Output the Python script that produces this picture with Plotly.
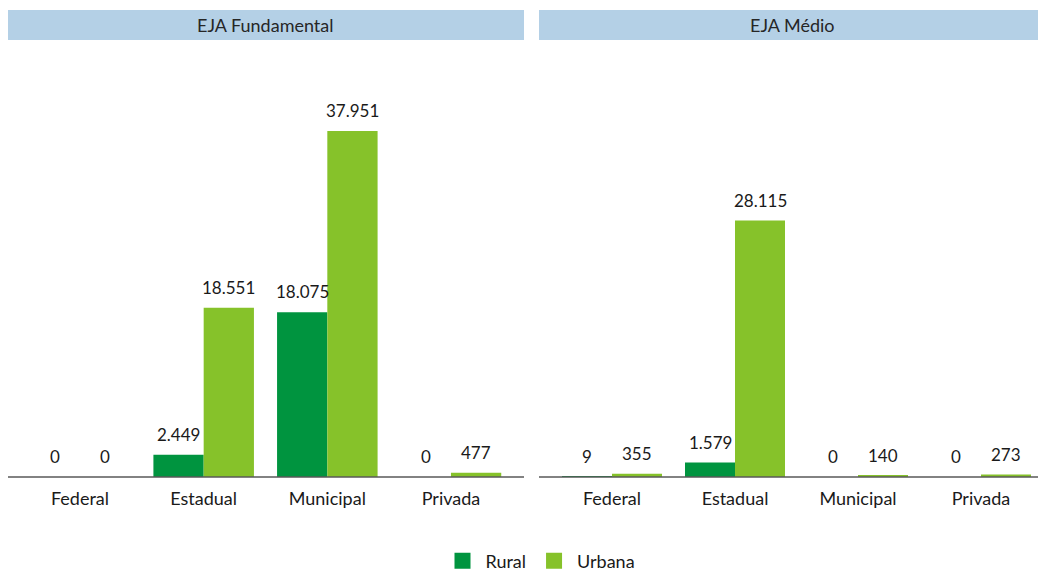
import plotly.graph_objects as go
from plotly.subplots import make_subplots

categorias = ["Federal", "Estadual", "Municipal", "Privada"]
fund_rural = [0, 2449, 18075, 0]
fund_urbana = [0, 18551, 37951, 477]
medio_rural = [9, 1579, 0, 0]
medio_urbana = [355, 28115, 140, 273]
paineis = ["EJA Fundamental", "EJA Médio"]

# a página tem 8px de margem no body, por isso tudo é deslocado de 8px
OFF = 8
W, H = 1046 - OFF, 570
VERDE_ESCURO = "#00943F"
VERDE_CLARO = "#86C22A"
FUNDO_TITULO = "#B4D0E6"
FONTE = "Lato, 'Open Sans', sans-serif"
PX_POR_UNIDADE = 0.00912


def fmt(v):
    return f"{v:,}".replace(",", ".")


def px(x):
    return (x - OFF) / W


def py(y):
    return 1 - (y - OFF) / H


fig = make_subplots(rows=1, cols=2)

for col, (rural, urbana) in enumerate([(fund_rural, fund_urbana), (medio_rural, medio_urbana)], start=1):
    fig.add_trace(go.Bar(x=categorias, y=rural, name="Rural", marker=dict(color=VERDE_ESCURO, line_width=0),
                         showlegend=False, legendgroup="rural"), row=1, col=col)
    fig.add_trace(go.Bar(x=categorias, y=urbana, name="Urbana", marker=dict(color=VERDE_CLARO, line_width=0),
                         showlegend=False, legendgroup="urbana"), row=1, col=col)
    sufixo = "" if col == 1 else "2"
    for serie, desloc in [(rural, -25), (urbana, 25)]:
        for cat, v in zip(categorias, serie):
            fig.add_annotation(x=cat, y=v, xref="x" + sufixo, yref="y" + sufixo, text=fmt(v),
                               showarrow=False, xshift=desloc, yshift=8, yanchor="bottom",
                               font=dict(size=17, color="#1a1a1a"))

# entradas da legenda com quadrados maiores
for nome, cor in [("Rural", VERDE_ESCURO), ("Urbana", VERDE_CLARO)]:
    fig.add_trace(go.Scatter(x=[None], y=[None], mode="markers", name=nome, legendgroup=nome.lower(),
                             marker=dict(symbol="square", size=20, color=cor)), row=1, col=1)

ybase = 477
ytopo = 45
ymax = (ybase - ytopo) / PX_POR_UNIDADE

fig.update_layout(
    width=W, height=H,
    margin=dict(l=0, r=0, t=0, b=0, autoexpand=False),
    paper_bgcolor="white", plot_bgcolor="white",
    barmode="group", bargap=0.187, bargroupgap=0,
    font=dict(family=FONTE, size=17, color="#1a1a1a"),
    legend=dict(orientation="h", x=px(540), xanchor="center", y=py(561), yanchor="middle",
                font=dict(size=18), itemwidth=36),
    xaxis=dict(domain=[px(80 - 61.8), px(451 + 61.8)], range=[-0.5, 3.5]),
    xaxis2=dict(domain=[px(612 - 61.5), 1], range=[-0.5, -0.5 + (W - (612 - 61.5 - OFF)) / 123]),
    yaxis=dict(domain=[py(ybase), py(ytopo)], range=[0, ymax]),
    yaxis2=dict(domain=[py(ybase), py(ytopo)], range=[0, ymax]),
)
fig.update_xaxes(showline=False, showgrid=False, ticks="outside", ticklen=5, tickcolor="white",
                 tickfont=dict(size=18, color="#1a1a1a"), automargin=False)
fig.update_yaxes(visible=False, showgrid=False, zeroline=False, automargin=False)

# linhas de base e faixas de título
for x0, x1, titulo in [(7, 524, paineis[0]), (539, 1046, paineis[1])]:
    fig.add_shape(type="line", xref="paper", yref="paper", x0=max(px(x0), 0), x1=px(x1),
                  y0=py(ybase), y1=py(ybase), line=dict(color="#595959", width=1.5))
    fig.add_shape(type="rect", xref="paper", yref="paper", x0=max(px(x0), 0), x1=px(x1),
                  y0=py(40), y1=py(10), fillcolor=FUNDO_TITULO, line_width=0, layer="below")
    fig.add_annotation(xref="paper", yref="paper", x=px((x0 + x1) / 2), y=py(25),
                       text=titulo, showarrow=False, font=dict(size=18, color="#262626"),
                       xanchor="center", yanchor="middle")

fig.write_html("out.html")
